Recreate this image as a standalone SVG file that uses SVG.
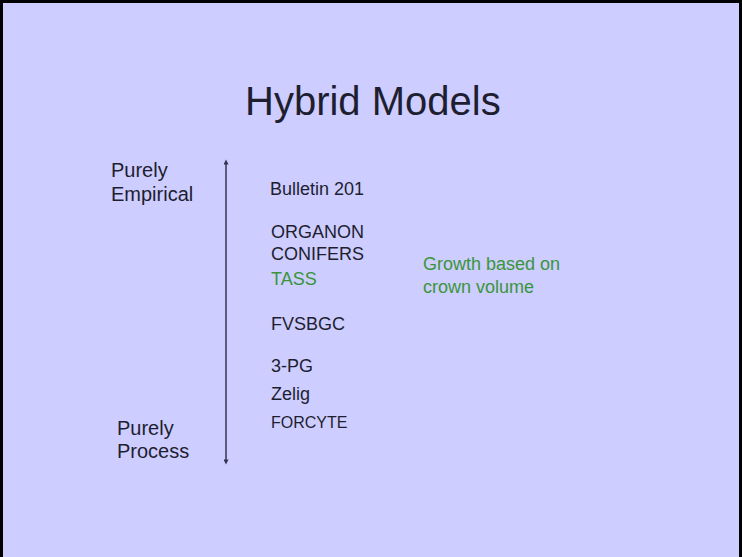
<svg xmlns="http://www.w3.org/2000/svg" width="742" height="557" viewBox="0 0 742 557">
<style>
.t{font-family:"Liberation Sans",Arial,sans-serif;fill:#1e1e30;}
.m{font-size:18px;}
.s{font-size:16px;}
.g{fill:#3a953a;}
.l{font-size:20px;}
</style>
<defs>
<marker id="ah" viewBox="0 0 10 10" refX="5" refY="5" markerWidth="6" markerHeight="5" orient="auto-start-reverse" markerUnits="userSpaceOnUse">
<path d="M0,0 L10,5 L0,10 z" fill="#333350"/>
</marker>
</defs>
<rect x="0" y="0" width="742" height="557" fill="#000"/>
<rect x="3" y="3" width="736" height="554" fill="#CDCDFF"/>
<text id="title" class="t" x="245" y="115" font-size="40">Hybrid Models</text>
<g id="connectors">
<line x1="226" y1="162" x2="226" y2="462" stroke="#333350" stroke-width="1.5" marker-start="url(#ah)" marker-end="url(#ah)"/>
</g>
<g id="empirical"><text class="t l" x="111" y="177">Purely</text><text class="t l" x="111" y="201">Empirical</text></g>
<g id="process"><text class="t l" x="117" y="435">Purely</text><text class="t l" x="117" y="458">Process</text></g>
<g id="bulletin"><text class="t m" x="270" y="195">Bulletin 201</text></g>
<g id="organon"><text class="t m" x="271" y="238">ORGANON</text></g>
<g id="conifers"><text class="t m" x="271" y="260">CONIFERS</text></g>
<g id="tass"><text class="t m g" x="271" y="285">TASS</text></g>
<g id="growth"><text class="t m g" x="423" y="270">Growth based on</text><text class="t m g" x="423" y="293">crown volume</text></g>
<g id="fvsbgc"><text class="t m" x="271" y="330">FVSBGC</text></g>
<g id="pg"><text class="t m" x="271" y="372">3-PG</text></g>
<g id="zelig"><text class="t m" x="271" y="400">Zelig</text></g>
<g id="forcyte"><text class="t s" x="271" y="428">FORCYTE</text></g>
</svg>
